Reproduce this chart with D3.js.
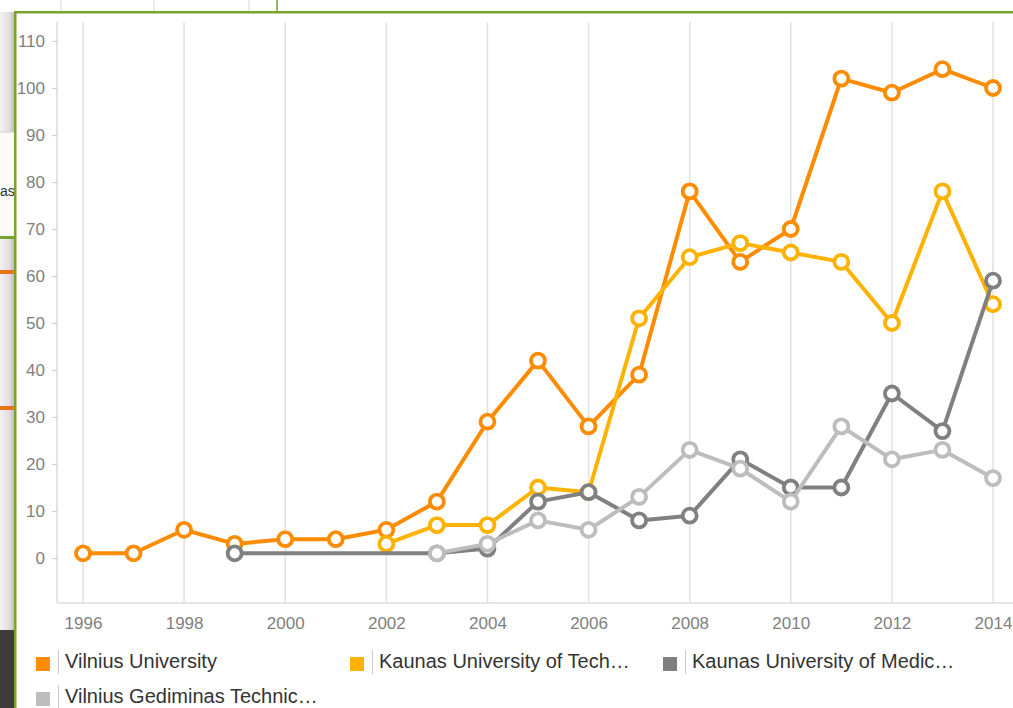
<!DOCTYPE html>
<html>
<head>
<meta charset="utf-8">
<script src="https://cdn.jsdelivr.net/npm/d3@7"></script>
<style>
  html, body { margin: 0; padding: 0; background: #ffffff; }
  svg { display: block; font-family: Arial, "Liberation Sans", sans-serif; }
</style>
</head>
<body>
<svg id="chart" width="1013" height="708"></svg>
<script>
// ---- data ----
const years = [1996,1997,1998,1999,2000,2001,2002,2003,2004,2005,2006,2007,2008,2009,2010,2011,2012,2013,2014];
const vilniusUniversity = [1,1,6,3,4,4,6,12,29,42,28,39,78,63,70,102,99,104,100];
const kaunasTech = [null,null,null,null,null,null,3,7,7,15,14,51,64,67,65,63,50,78,54];
const kaunasMedic = [null,null,null,1,null,null,null,1,2,12,14,8,9,21,15,15,35,27,59];
const vilniusGediminas = [null,null,null,null,null,null,null,1,3,8,6,13,23,19,12,28,21,23,17];
const seriesNames = ["Vilnius University","Kaunas University of Tech\u2026","Kaunas University of Medic\u2026","Vilnius Gediminas Technic\u2026"];
const seriesColors = ["#ff8c00","#ffb300","#808080","#bdbdbd"];
const yTicks = [0,10,20,30,40,50,60,70,80,90,100,110];
const xTicks = [1996,1998,2000,2002,2004,2006,2008,2010,2012,2014];

const seriesValues = [vilniusUniversity, kaunasTech, kaunasMedic, vilniusGediminas];

const svg = d3.select("#chart");

// ---- surrounding page decoration (from screenshot) ----
const defs = svg.append("defs");
const grad = defs.append("linearGradient").attr("id","shadow").attr("x1","0").attr("x2","1").attr("y1","0").attr("y2","0");
grad.append("stop").attr("offset","0").attr("stop-color","#f2f2f2");
grad.append("stop").attr("offset","0.6").attr("stop-color","#e0e0e0");
grad.append("stop").attr("offset","1").attr("stop-color","#b8b8b8");
const deco = svg.append("g").attr("class","decor");
deco.append("rect").attr("x",0).attr("y",12).attr("width",15).attr("height",620).attr("fill","url(#shadow)");
deco.append("rect").attr("x",0).attr("y",132).attr("width",15).attr("height",105).attr("fill","#fafafa");
deco.append("line").attr("x1",0).attr("x2",15).attr("y1",132).attr("y2",132).attr("stroke","#cfcfcf");
deco.append("text").attr("x",0).attr("y",196).attr("font-size",14).attr("fill","#333").text("as");
deco.append("rect").attr("x",0).attr("y",236).attr("width",15).attr("height",3).attr("fill","#7aa22f");
deco.append("rect").attr("x",0).attr("y",270).attr("width",15).attr("height",4).attr("fill","#e8760c");
deco.append("rect").attr("x",0).attr("y",406).attr("width",15).attr("height",4).attr("fill","#e8760c");
deco.append("rect").attr("x",0).attr("y",630).attr("width",15).attr("height",78).attr("fill","#3c3c3c");
[61,154,249].forEach(x => deco.append("line").attr("x1",x).attr("x2",x).attr("y1",0).attr("y2",11).attr("stroke","#e4e4e4").attr("stroke-width",1.5));
deco.append("line").attr("x1",277).attr("x2",277).attr("y1",0).attr("y2",12).attr("stroke","#7aa22f").attr("stroke-width",1.5);
deco.append("rect").attr("x",14).attr("y",11).attr("width",999).attr("height",2.5).attr("fill","#7aa22f");
deco.append("rect").attr("x",14).attr("y",11).attr("width",2.5).attr("height",697).attr("fill","#7aa22f");

// ---- scales ----
const x = d3.scaleLinear().domain([1996, 2014]).range([83, 993]);
const y = d3.scaleLinear().domain([0, 110]).range([558, 41]);
const plotTop = 22, plotBottom = 603, axisX = 57;

const g = svg.append("g");

// vertical grid lines
g.append("g").selectAll("line").data(xTicks).join("line")
  .attr("x1", d => x(d)).attr("x2", d => x(d))
  .attr("y1", plotTop).attr("y2", plotBottom)
  .attr("stroke", "#e2e2e2").attr("stroke-width", 1.5);

// axes lines
g.append("line").attr("x1", axisX).attr("x2", axisX).attr("y1", plotTop).attr("y2", plotBottom)
  .attr("stroke", "#dcdcdc").attr("stroke-width", 1.5);
g.append("line").attr("x1", axisX).attr("x2", 1013).attr("y1", plotBottom).attr("y2", plotBottom)
  .attr("stroke", "#dcdcdc").attr("stroke-width", 1.5);

// y axis via d3.axisLeft
const yAxis = d3.axisLeft(y).tickValues(yTicks).tickSize(5).tickPadding(7);
const yg = g.append("g").attr("transform", `translate(${axisX},0)`).call(yAxis);
yg.select(".domain").remove();
yg.selectAll(".tick line").attr("stroke", "#d0d0d0").attr("stroke-width", 1.2);
yg.selectAll(".tick text").attr("font-size", 17).attr("fill", "#7f7f7f")
  .attr("font-family", "Arial, 'Liberation Sans', sans-serif").attr("dy", "0.35em");

// x axis via d3.axisBottom
const xAxis = d3.axisBottom(x).tickValues(xTicks).tickFormat(d3.format("d")).tickSize(0).tickPadding(0);
const xg = g.append("g").attr("transform", `translate(0,${plotBottom})`).call(xAxis);
xg.select(".domain").remove();
xg.selectAll(".tick text").attr("font-size", 17).attr("fill", "#7f7f7f")
  .attr("font-family", "Arial, 'Liberation Sans', sans-serif").attr("y", 26).attr("dy", 0);

// ---- series ----
const line = d3.line().x(d => x(d.year)).y(d => y(d.value));
seriesValues.forEach((vals, i) => {
  const pts = years.map((yr, k) => ({year: yr, value: vals[k]})).filter(d => d.value !== null);
  const sg = g.append("g");
  sg.append("path").datum(pts).attr("d", line)
    .attr("fill", "none").attr("stroke", seriesColors[i]).attr("stroke-width", 4)
    .attr("stroke-linejoin", "round");
  sg.selectAll("circle").data(pts).join("circle")
    .attr("cx", d => x(d.year)).attr("cy", d => y(d.value)).attr("r", 7)
    .attr("fill", "#ffffff").attr("stroke", seriesColors[i]).attr("stroke-width", 3.8);
});

// ---- legend ----
const legendPos = [[36, 657], [350, 657], [663, 657], [36, 692]];
const lg = g.append("g");
seriesNames.forEach((name, i) => {
  const [lx, ly] = legendPos[i];
  const item = lg.append("g").attr("transform", `translate(${lx},${ly})`);
  item.append("rect").attr("x", 0).attr("y", 0).attr("width", 14).attr("height", 14).attr("fill", seriesColors[i]);
  item.append("line").attr("x1", 22.5).attr("x2", 22.5).attr("y1", -7).attr("y2", 17)
    .attr("stroke", "#cccccc").attr("stroke-width", 1);
  item.append("text").attr("x", 29).attr("y", 11).attr("font-size", 20).attr("fill", "#333333").text(name);
});
</script>
</body>
</html>
